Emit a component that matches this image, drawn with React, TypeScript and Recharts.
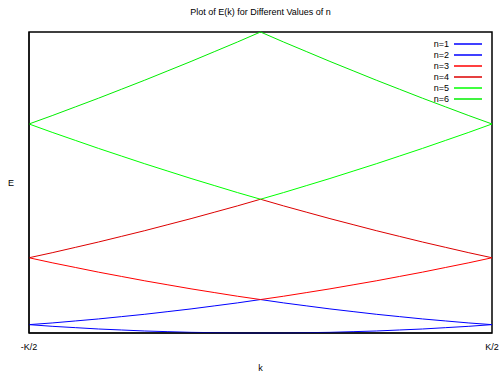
import { Line, LineChart, ReferenceArea, XAxis, YAxis } from "recharts";

// k in units of K, sampled across the first zone
const kValues = [
	-0.5, -0.45, -0.4, -0.35, -0.3, -0.25, -0.2, -0.15, -0.1, -0.05, 0, 0.05, 0.1,
	0.15, 0.2, 0.25, 0.3, 0.35, 0.4, 0.45, 0.5,
];

const n1 = [
	0.25, 0.2, 0.16, 0.12, 0.09, 0.06, 0.04, 0.02, 0.01, 0.0, 0, 0.0, 0.01, 0.02,
	0.04, 0.06, 0.09, 0.12, 0.16, 0.2, 0.25,
];
const n2 = [
	0.25, 0.3, 0.36, 0.42, 0.49, 0.56, 0.64, 0.72, 0.81, 0.9, 1, 0.9, 0.81, 0.72,
	0.64, 0.56, 0.49, 0.42, 0.36, 0.3, 0.25,
];
const n3 = [
	2.25, 2.1, 1.96, 1.82, 1.69, 1.56, 1.44, 1.32, 1.21, 1.1, 1, 1.1, 1.21, 1.32,
	1.44, 1.56, 1.69, 1.82, 1.96, 2.1, 2.25,
];
const n4 = [
	2.25, 2.4, 2.56, 2.72, 2.89, 3.06, 3.24, 3.42, 3.61, 3.8, 4, 3.8, 3.61, 3.42,
	3.24, 3.06, 2.89, 2.72, 2.56, 2.4, 2.25,
];
const n5 = [
	6.25, 6.0, 5.76, 5.52, 5.29, 5.06, 4.84, 4.62, 4.41, 4.2, 4, 4.2, 4.41, 4.62,
	4.84, 5.06, 5.29, 5.52, 5.76, 6.0, 6.25,
];
const n6 = [
	6.25, 6.5, 6.76, 7.02, 7.29, 7.56, 7.84, 8.12, 8.41, 8.7, 9, 8.7, 8.41, 8.12,
	7.84, 7.56, 7.29, 7.02, 6.76, 6.5, 6.25,
];

const seriesNames = ["n=1", "n=2", "n=3", "n=4", "n=5", "n=6"];
const seriesColors = [
	"#0000ff",
	"#0000ff",
	"#ff0000",
	"#dd0000",
	"#00ff00",
	"#00ee00",
];
const xTickLabels: Record<number, string> = { [-0.5]: "-K/2", [0.5]: "K/2" };

const allSeries = [n1, n2, n3, n4, n5, n6];
const data = kValues.map((k, i) => {
	const row: Record<string, number> = { k };
	allSeries.forEach((s, j) => {
		row[`n${j + 1}`] = s[i];
	});
	return row;
});

const font = "'Liberation Sans', Arial, sans-serif";

// gnuplot-style key: label right-aligned, sample line after it
function GnuLegend() {
	return (
		<svg
			width={502}
			height={373}
			style={{ position: "absolute", left: 0, top: 0, pointerEvents: "none" }}
		>
			{seriesNames.map((name, j) => (
				<g key={name}>
					<text
						x={449}
						y={44 + j * 11}
						textAnchor="end"
						dominantBaseline="central"
						fontFamily={font}
						fontSize={9}
						fill="#000"
					>
						{name}
					</text>
					<line
						x1={454}
						x2={482}
						y1={44 + j * 11}
						y2={44 + j * 11}
						stroke={seriesColors[j]}
						strokeWidth={1.5}
					/>
				</g>
			))}
		</svg>
	);
}

export default function App() {
	return (
		<div
			style={{
				position: "absolute",
				left: 0,
				top: 0,
				width: 502,
				height: 373,
				background: "#fff",
			}}
		>
			<div
				style={{
					position: "absolute",
					top: 7,
					left: 29,
					width: 463,
					textAlign: "center",
					fontFamily: font,
					fontSize: 9,
					color: "#000",
				}}
			>
				Plot of E(k) for Different Values of n
			</div>
			<LineChart
				width={502}
				height={373}
				data={data}
				margin={{ top: 32, right: 10, bottom: 0, left: 0 }}
			>
				<XAxis
					dataKey="k"
					type="number"
					domain={[-0.5, 0.5]}
					ticks={[-0.5, 0.5]}
					tickFormatter={(v) => xTickLabels[v] ?? ""}
					tickLine={false}
					tickMargin={5}
					height={40}
					axisLine={{ stroke: "#000" }}
					tick={{ fill: "#000", fontSize: 9, fontFamily: font }}
					label={{
						value: "k",
						position: "insideBottom",
						offset: 2,
						fill: "#000",
						fontSize: 9,
						fontFamily: font,
					}}
				/>
				<YAxis
					type="number"
					domain={[0, 9]}
					width={29}
					tick={false}
					tickLine={false}
					axisLine={{ stroke: "#000" }}
					label={{
						value: "E",
						position: "insideLeft",
						offset: 8,
						fill: "#000",
						fontSize: 9,
						fontFamily: font,
					}}
				/>
				<ReferenceArea
					x1={-0.5}
					x2={0.5}
					y1={0}
					y2={9}
					fill="none"
					fillOpacity={0}
					stroke="#000"
					strokeWidth={1.5}
				/>
				{seriesNames.map((name, j) => (
					<Line
						key={name}
						type="linear"
						dataKey={`n${j + 1}`}
						name={name}
						stroke={seriesColors[j]}
						strokeWidth={1}
						dot={false}
						activeDot={false}
						isAnimationActive={false}
					/>
				))}
			</LineChart>
			<GnuLegend />
		</div>
	);
}
